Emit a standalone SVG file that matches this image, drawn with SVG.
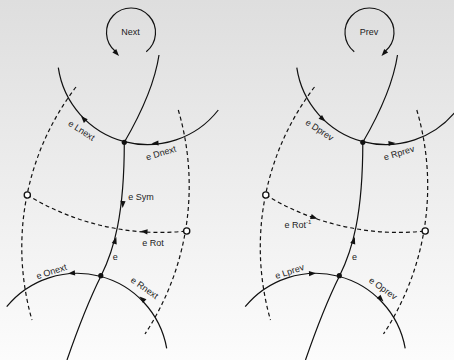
<svg xmlns="http://www.w3.org/2000/svg" xmlns:xlink="http://www.w3.org/1999/xlink" width="454" height="360" viewBox="0 0 454 360">
  <defs>
    <linearGradient id="bg" x1="0" y1="0" x2="0" y2="1">
      <stop offset="0" stop-color="#dedede"/>
      <stop offset="1" stop-color="#fcfcfc"/>
    </linearGradient>
    <!-- arrowhead, tip at origin pointing along +x -->
    <path id="ah" d="M0,0 L-7,-2.6 L-7,2.6 Z" fill="#111"/>
  </defs>
  <style>
    .edge { fill: none; stroke: #111; stroke-width: 1.2; }
    .dual { fill: none; stroke: #111; stroke-width: 1.2; stroke-dasharray: 4 3; }
    .vert { fill: #111; }
    .face { fill: #fff; stroke: #111; stroke-width: 1.3; }
    text { font-family: "Liberation Sans", Arial, sans-serif; font-size: 9px; fill: #222; }
    .c { text-anchor: middle; dominant-baseline: central; }
  </style>

  <rect width="454" height="360" fill="url(#bg)"/>

  <!-- ===== Next operators ===== -->
  <g id="panel-next">
    <g id="connectors-next">
      <path class="edge" d="M146.25,51.67 A24.5,24.5 0 1 0 115.25,51.27"/>
      <use href="#ah" transform="translate(119,56) rotate(48)"/>
      <path class="edge" d="M58.3,67.7 A90,90 0 0 0 218.3,110"/>
      <path class="edge" d="M6.7,306.7 A91,91 0 0 1 166.7,348.3"/>
      <path class="edge" d="M124.3,142.3 Q153.5,92 159,55"/>
      <path class="edge" d="M124.3,142.3 C124.3,215 114,250 101,276 C88,302 76,334 67,360"/>
      <path class="dual" d="M76,87 A264,264 0 0 0 32,320"/>
      <path class="dual" d="M178.3,110 A270,270 0 0 1 145,334"/>
      <path class="dual" d="M27.3,195 A254,254 0 0 0 186.7,231"/>
      <use href="#ah" transform="translate(81,116) rotate(-133)"/>
      <use href="#ah" transform="translate(151.5,143.5) rotate(176)"/>
      <use href="#ah" transform="translate(122.6,208) rotate(93)"/>
      <use href="#ah" transform="translate(116.3,237) rotate(-73)"/>
      <use href="#ah" transform="translate(140.5,231.3) rotate(184)"/>
      <use href="#ah" transform="translate(68,273.5) rotate(175)"/>
      <use href="#ah" transform="translate(139.5,296.5) rotate(222)"/>
    </g>
    <g id="loop-next"><text class="c" x="130.5" y="32">Next</text></g>
    <g id="v-top-next"><circle class="vert" cx="124.3" cy="142.3" r="2.6"/></g>
    <g id="v-bot-next"><circle class="vert" cx="100.8" cy="275.7" r="2.6"/></g>
    <g id="f-left-next"><circle class="face" cx="27.3" cy="195" r="3.1"/></g>
    <g id="f-right-next"><circle class="face" cx="186.7" cy="231" r="3.1"/></g>
    <g id="labels-next">
      <text class="c" transform="translate(81.5,130.5) rotate(33)">e Lnext</text>
      <text class="c" transform="translate(161,153) rotate(-17)">e Dnext</text>
      <text x="128.3" y="200">e Sym</text>
      <text x="142.3" y="246">e Rot</text>
      <text x="115.3" y="259.5" text-anchor="middle">e</text>
      <text class="c" transform="translate(51.5,271.5) rotate(-18)">e Onext</text>
      <text class="c" transform="translate(144.5,288) rotate(35)">e Rnext</text>
    </g>
  </g>

  <!-- ===== Prev operators ===== -->
  <g id="panel-prev" transform="translate(238.5,0)">
    <g id="connectors-prev">
      <path class="edge" d="M115.75,51.67 A24.5,24.5 0 1 1 146.75,51.27"/>
      <use href="#ah" transform="translate(143,56) rotate(132)"/>
      <path class="edge" d="M58.3,67.7 A90,90 0 0 0 218.3,110"/>
      <path class="edge" d="M6.7,306.7 A91,91 0 0 1 166.7,348.3"/>
      <path class="edge" d="M124.3,142.3 Q153.5,92 159,55"/>
      <path class="edge" d="M124.3,142.3 C124.3,215 114,250 101,276 C88,302 76,334 67,360"/>
      <path class="dual" d="M76,87 A264,264 0 0 0 32,320"/>
      <path class="dual" d="M178.3,110 A270,270 0 0 1 145,334"/>
      <path class="dual" d="M27.3,195 A254,254 0 0 0 186.7,231"/>
      <use href="#ah" transform="translate(87,121.5) rotate(42)"/>
      <use href="#ah" transform="translate(157,143) rotate(-4)"/>
      <use href="#ah" transform="translate(116.3,237) rotate(-73)"/>
      <use href="#ah" transform="translate(79,218.7) rotate(19)"/>
      <use href="#ah" transform="translate(77.5,273.2) rotate(-3)"/>
      <use href="#ah" transform="translate(145,301.5) rotate(46)"/>
    </g>
    <g id="loop-prev"><text class="c" x="130.5" y="32">Prev</text></g>
    <g id="v-top-prev"><circle class="vert" cx="124.3" cy="142.3" r="2.6"/></g>
    <g id="v-bot-prev"><circle class="vert" cx="100.8" cy="275.7" r="2.6"/></g>
    <g id="f-left-prev"><circle class="face" cx="27.3" cy="195" r="3.1"/></g>
    <g id="f-right-prev"><circle class="face" cx="186.7" cy="231" r="3.1"/></g>
    <g id="labels-prev">
      <text class="c" transform="translate(81,130) rotate(33)">e Dprev</text>
      <text class="c" transform="translate(160.5,153) rotate(-17)">e Rprev</text>
      <text x="46" y="228">e Rot<tspan font-size="6" dy="-4">-1</tspan></text>
      <text x="116" y="259.5" text-anchor="middle">e</text>
      <text class="c" transform="translate(51,271.5) rotate(-18)">e Lprev</text>
      <text class="c" transform="translate(144.5,288.5) rotate(35)">e Oprev</text>
    </g>
  </g>
</svg>
